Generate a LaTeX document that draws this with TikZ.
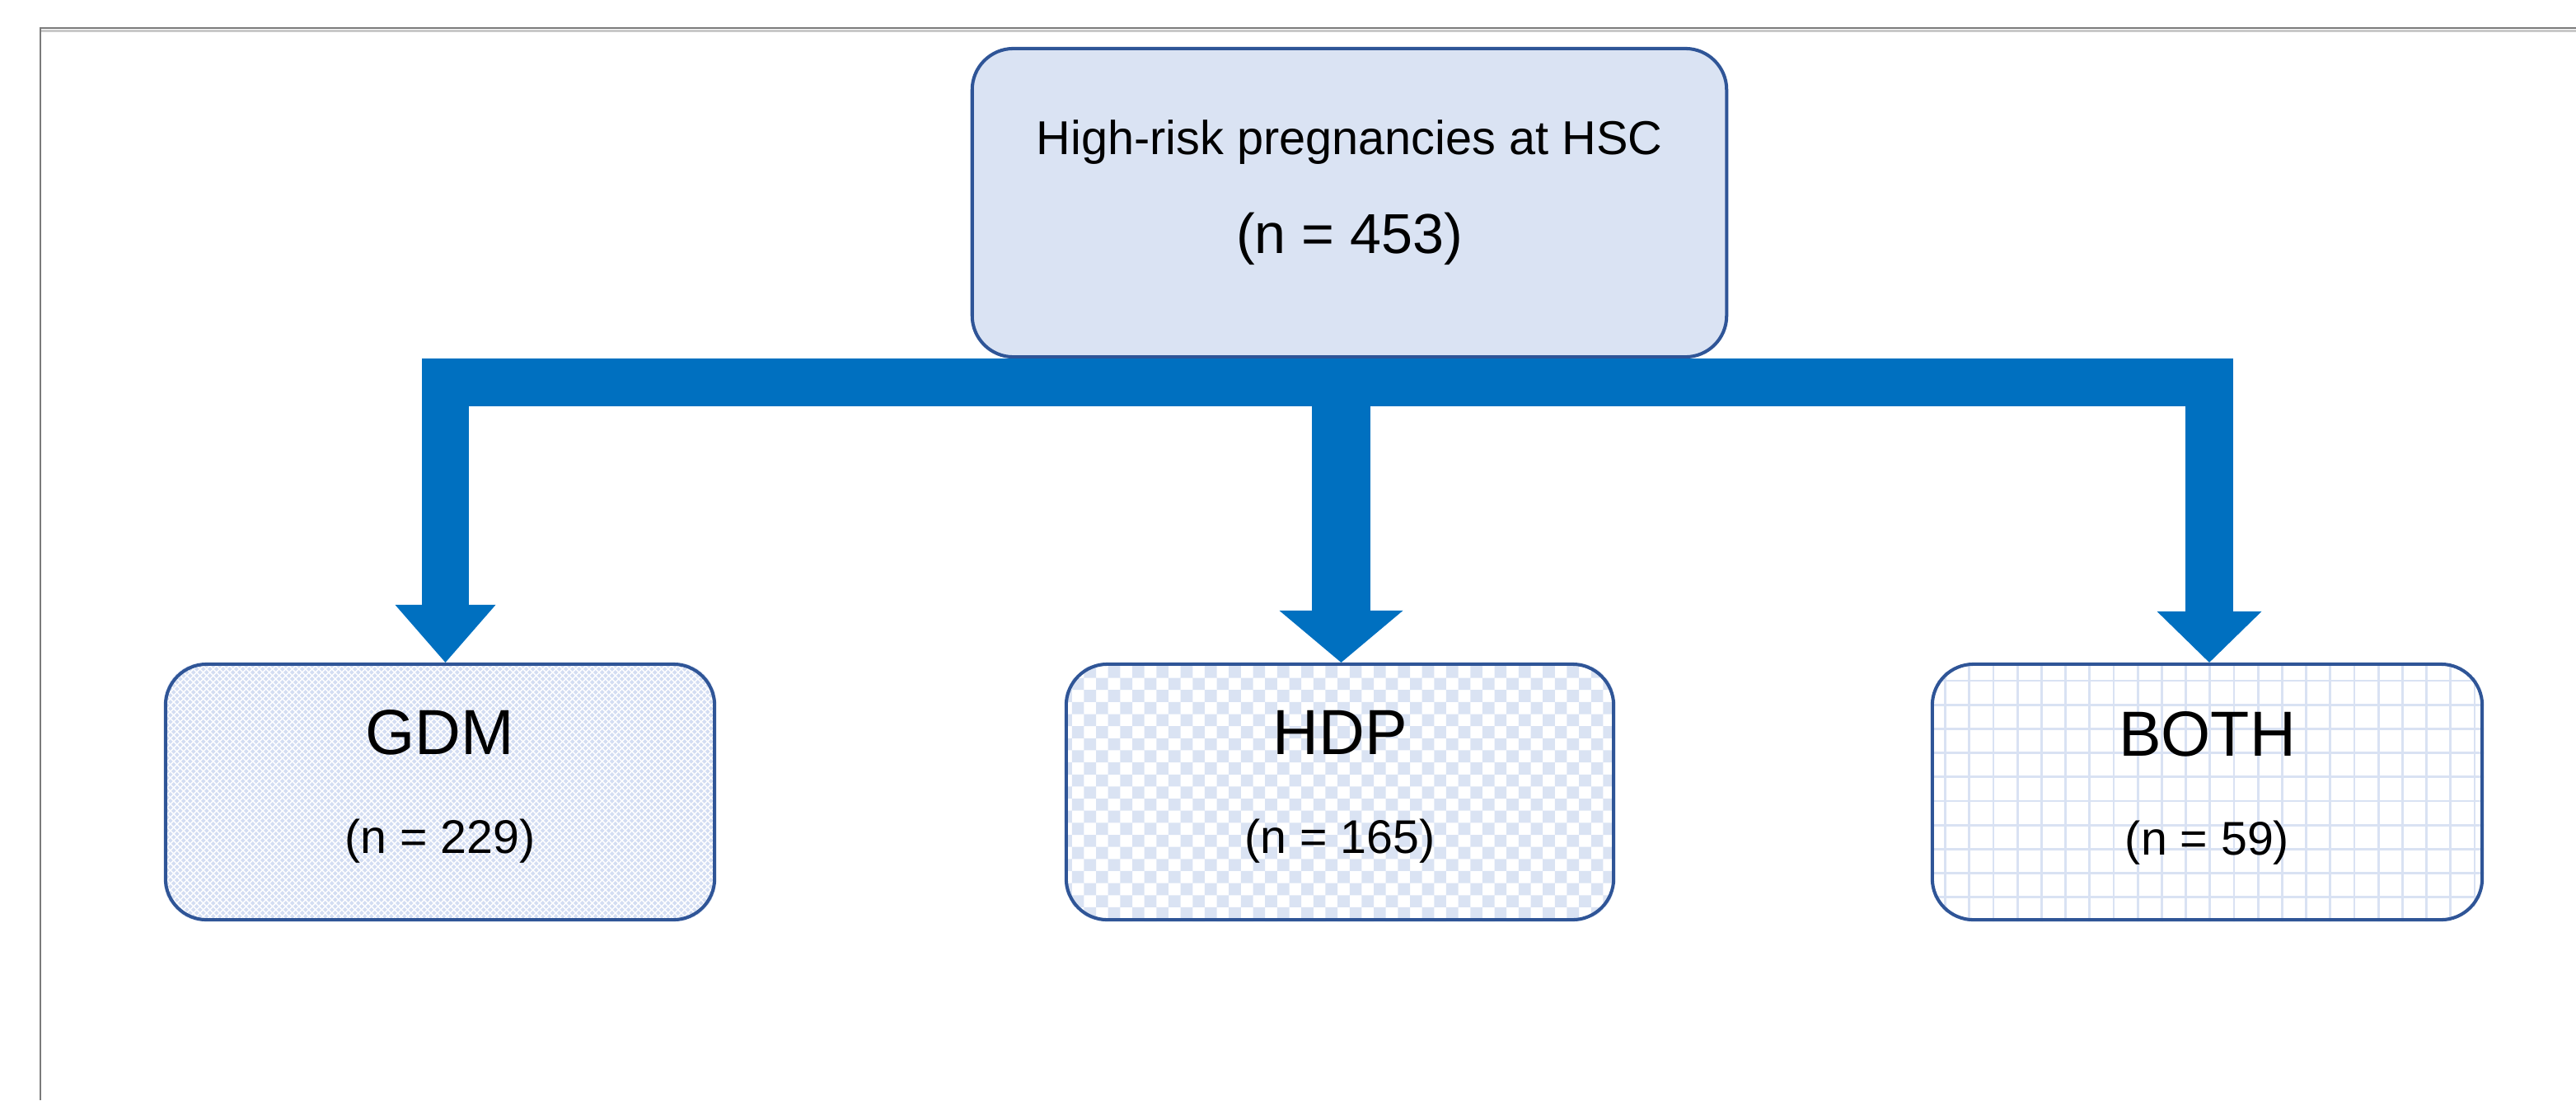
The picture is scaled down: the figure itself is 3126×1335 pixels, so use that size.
\documentclass[tikz,border=0pt]{standalone}
\usepackage{fontspec}
\setmainfont{Liberation Sans}
\usetikzlibrary{backgrounds,calc}
\definecolor{arrowblue}{HTML}{0070C0}
\definecolor{boxline}{HTML}{2F5597}
\definecolor{boxfill}{HTML}{DAE3F3}
\definecolor{patblue}{HTML}{D3DDF2}
\definecolor{gridblue}{HTML}{D9E2F3}
\definecolor{framedark}{HTML}{7A7A7A}
\definecolor{framelight}{HTML}{C8C8C8}
\begin{document}
\begin{tikzpicture}[x=0.01cm,y=-0.01cm,
  box/.style={draw=boxline, line width=1.15pt, rounded corners=0.5cm, inner sep=0pt, minimum height=3.1cm},
  bigtxt/.style={anchor=base, inner sep=0pt, font=\fontsize{22}{26}\selectfont},
  smalltxt/.style={anchor=base, inner sep=0pt, font=\fontsize{16.3}{20}\selectfont},
  arrowbar/.style={arrowblue, line width=0.575cm, line cap=butt, line join=miter},
  headfill/.style={fill=arrowblue}]
\useasboundingbox (0,0) rectangle (3126,1335);

% page frame
\draw[framedark, line width=0.024cm] (48.8,1335) -- (48.8,34) -- (3126,34);
\draw[framelight, line width=0.03cm] (50,37) -- (3126,37);

% boxes
\node[box, fill=boxfill, minimum width=9.15cm, minimum height=3.74cm] (top) at (1637.5,246) {};
\node[box, minimum width=6.66cm] (gdm) at (534,961) {};
\node[box, minimum width=6.64cm] (hdp) at (1626,961) {};
\node[box, minimum width=6.67cm] (both) at (2678.5,961) {};

% patterns behind the lower boxes
\begin{scope}[on background layer]
  \begin{scope}
    \clip[rounded corners=0.5cm] (gdm.north west) rectangle (gdm.south east);
    \fill[patblue] (gdm.north west) rectangle (gdm.south east);
    \foreach \k in {-340,-332,...,1010} {
      \draw[white, line width=0.42pt] ($(gdm.north west)+(\k,0)$) -- ++(340,340);
      \draw[white, line width=0.42pt] ($(gdm.north west)+(\k,0)$) -- ++(-340,340);
    }
  \end{scope}
  \begin{scope}
    \clip[rounded corners=0.5cm] (hdp.north west) rectangle (hdp.south east);
    \fill[boxfill, even odd rule]
      \foreach \i in {0,2,...,46} { ($(hdp.north west)+(\i*14.65+9,0)$) rectangle ++(14.65,330) }
      \foreach \j in {0,2,...,22} { ($(hdp.north west)+(0,\j*14.65+4)$) rectangle ++(700,14.65) };
  \end{scope}
  \begin{scope}
    \clip[rounded corners=0.5cm] (both.north west) rectangle (both.south east);
    \foreach \i in {0,...,22}
      \draw[gridblue, line width=0.8pt] ($(both.north west)+(17.8+\i*29.2,0)$) -- ++(0,330);
    \foreach \j in {0,...,10}
      \draw[gridblue, line width=0.8pt] ($(both.north west)+(0,22+\j*29.2)$) -- ++(700,0);
  \end{scope}
\end{scope}

% texts
\node[smalltxt, font=\fontsize{16.4}{20}\selectfont] (toptitle) at ($(top.center)+(0,-59)$) {High-risk pregnancies at HSC};
\node[smalltxt, font=\fontsize{19.4}{23}\selectfont] (topn) at ($(top.center)+(0,61)$) {(n = 453)};
\node[bigtxt] (gdmtitle) at ($(gdm.center)+(0,-46)$) {GDM};
\node[smalltxt] (gdmn) at ($(gdm.center)+(0,74)$) {(n = 229)};
\node[bigtxt] (hdptitle) at ($(hdp.center)+(0,-46)$) {HDP};
\node[smalltxt] (hdpn) at ($(hdp.center)+(0,74)$) {(n = 165)};
\node[bigtxt] (bothtitle) at ($(both.center)+(0,-44)$) {BOTH};
\node[smalltxt] (bothn) at ($(both.center)+(0,76)$) {(n = 59)};

% connectors
\coordinate (gTip) at ($(gdm.north)+(6.5,0)$);
\coordinate (hTip) at ($(hdp.north)+(1.5,0)$);
\coordinate (bTip) at ($(both.north)+(2.5,0)$);
\coordinate (barY) at ($(top.south)+(0,29)$);

\draw[arrowbar] ($(gTip)+(0,-69)$) |- (barY) -| ($(bTip)+(0,-61)$);
\draw[arrowbar, line width=0.71cm] (hTip |- top.south) -- ($(hTip)+(0,-62)$);

\fill[headfill] (gTip) -- ++(-61,-70) -- ++(122,0) -- cycle;
\fill[headfill] (hTip) -- ++(-75,-63) -- ++(150,0) -- cycle;
\fill[headfill] (bTip) -- ++(-63.5,-62) -- ++(127,0) -- cycle;
\end{tikzpicture}
\end{document}
